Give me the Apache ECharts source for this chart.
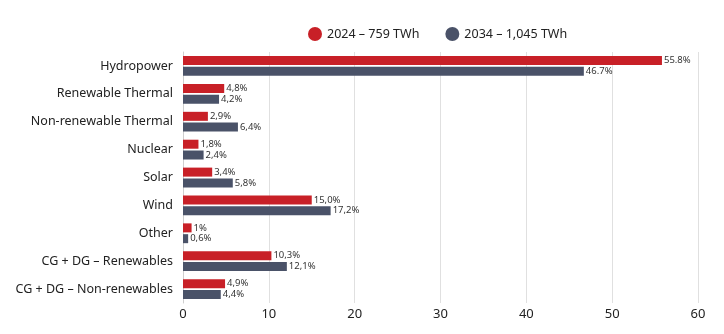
<!DOCTYPE html>
<html><head><meta charset="utf-8">
<script src="https://cdn.jsdelivr.net/npm/echarts@6/dist/echarts.min.js"></script>
<style>html,body{margin:0;padding:0;background:#fff}#c{width:724px;height:334px}</style>
</head><body><div id="c"></div>
<script>
const categories = ["Hydropower","Renewable Thermal","Non-renewable Thermal","Nuclear","Solar","Wind","Other","CG + DG – Renewables","CG + DG – Non-renewables"];
const seriesNames = ["2024 – 759 TWh","2034 – 1,045 TWh"];
const values2024 = [55.8,4.8,2.9,1.8,3.4,15.0,1,10.3,4.9];
const values2034 = [46.7,4.2,6.4,2.4,5.8,17.2,0.6,12.1,4.4];
const labels2024 = ["55.8%","4,8%","2,9%","1,8%","3,4%","15,0%","1%","10,3%","4,9%"];
const labels2034 = ["46.7%","4,2%","6,4%","2,4%","5,8%","17,2%","0,6%","12,1%","4,4%"];
const xTicks = [0,10,20,30,40,50,60];

const font = "'Noto Sans', sans-serif";
const chart = echarts.init(document.getElementById('c'));
function mk(name, vals, labs, color){
  return {
    name, type:'bar', data: vals, barWidth: 9, barGap: '20%',
    itemStyle:{color},
    label:{show:true, position:'right', distance:2, fontFamily:font, fontSize:9.5, color:'#333',
      formatter: p => labs[p.dataIndex]}
  };
}
chart.setOption({
  animation:false,
  legend:{top:22, left:303, itemWidth:14, itemHeight:14, itemGap:26, icon:'circle',
    textStyle:{fontFamily:font, fontSize:12.5, color:'#222'}, data:seriesNames},
  grid:{left:183, right:26, top:52, bottom:31, containLabel:false},
  xAxis:{type:'value', min:xTicks[0], max:xTicks[xTicks.length-1], interval:10,
    axisLine:{show:false}, axisTick:{show:false},
    splitLine:{show:true, lineStyle:{color:'#e0e0e0', width:1}},
    axisLabel:{fontFamily:font, fontSize:13, color:'#222', margin:5}},
  yAxis:{type:'category', data:categories, inverse:true,
    axisLine:{show:true, lineStyle:{color:'#cfcfcf'}}, axisTick:{show:false},
    axisLabel:{fontFamily:font, fontSize:12.5, color:'#222', margin:10}},
  series:[mk(seriesNames[0], values2024, labels2024, '#c82027'),
          mk(seriesNames[1], values2034, labels2034, '#4a5268')]
});
</script></body></html>
